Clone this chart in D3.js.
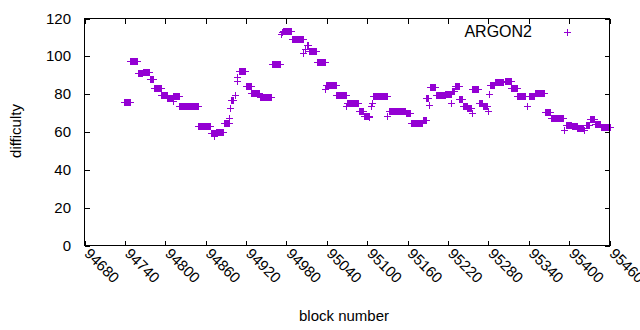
<!DOCTYPE html>
<html>
<head>
<meta charset="utf-8">
<script src="https://cdn.jsdelivr.net/npm/d3@7"></script>
<style>
  body { margin: 0; background: #fff; }
  text { font-family: "Liberation Sans", Arial, sans-serif; fill: #000; }
</style>
</head>
<body>
<div id="chart"></div>
<script>
// runs of constant difficulty: first block, last block, difficulty
const runStart = [94739, 94748, 94759, 94767, 94777, 94783, 94794, 94803, 94811, 94812,
  94821, 94849, 94868, 94873, 94876, 94887, 94895, 94896, 94897, 94903,
  94906, 94907, 94910, 94920, 94928, 94940, 94958, 94972, 94974, 94975,
  94988, 95005, 95008, 95010, 95013, 95025, 95038, 95039, 95054, 95069,
  95070, 95088, 95095, 95103, 95105, 95107, 95108, 95130, 95132, 95157,
  95165, 95183, 95188, 95192, 95193, 95202, 95216, 95225, 95226, 95230,
  95237, 95242, 95249, 95255, 95256, 95266, 95272, 95279, 95281, 95283,
  95290, 95305, 95314, 95323, 95337, 95341, 95349, 95364, 95373, 95393,
  95395, 95404, 95412, 95422, 95425, 95431, 95438, 95447];
const runEnd = [94747, 94758, 94766, 94776, 94782, 94793, 94802, 94810, 94811, 94820,
  94848, 94867, 94875, 94873, 94886, 94894, 94895, 94896, 94900, 94903,
  94906, 94907, 94919, 94927, 94939, 94957, 94971, 94972, 94974, 94987,
  95004, 95005, 95008, 95012, 95024, 95037, 95038, 95053, 95068, 95069,
  95087, 95094, 95102, 95103, 95105, 95107, 95129, 95130, 95156, 95164,
  95182, 95187, 95190, 95192, 95201, 95215, 95224, 95225, 95229, 95236,
  95241, 95248, 95254, 95255, 95265, 95271, 95278, 95279, 95281, 95289,
  95302, 95313, 95322, 95335, 95337, 95348, 95363, 95372, 95391, 95393,
  95403, 95411, 95421, 95422, 95430, 95437, 95446, 95460];
const runDifficulty = [75.6, 97.3, 91.0, 91.6, 88.0, 83.2, 79.8, 78.2, 76.5, 78.8,
  74.0, 63.4, 59.7, 58.0, 60.2, 64.8, 67.6, 72.9, 77.0, 79.5,
  87.0, 89.2, 92.5, 84.1, 80.4, 78.7, 95.7, 111.6, 113.0, 113.6,
  108.9, 101.5, 103.7, 106.0, 103.0, 97.2, 82.5, 85.1, 79.3, 73.8,
  75.1, 71.0, 68.7, 67.9, 73.6, 75.2, 78.8, 68.3, 71.3, 69.8,
  65.0, 66.6, 78.0, 74.5, 83.9, 79.4, 80.1, 75.1, 81.9, 84.5,
  77.4, 73.6, 72.8, 70.1, 82.8, 75.4, 73.8, 71.3, 80.0, 84.8,
  86.2, 87.1, 83.4, 78.8, 73.8, 78.8, 80.4, 70.8, 67.5, 61.3,
  63.8, 63.0, 62.1, 61.0, 63.7, 66.9, 64.0, 62.9];

const xTicks = [94680, 94740, 94800, 94860, 94920, 94980, 95040, 95100, 95160, 95220, 95280, 95340, 95400, 95460];
const yTicks = [0, 20, 40, 60, 80, 100, 120];
const seriesName = "ARGON2";

const width = 640, height = 330;
const plotLeft = 84.5, plotRight = 609.5, plotTop = 18.5, plotBottom = 245.5;
const color = "#9400d3";

const svg = d3.select("#chart").append("svg")
  .attr("width", width)
  .attr("height", height);

const x = d3.scaleLinear().domain([94680, 95460]).range([plotLeft, plotRight]);
const y = d3.scaleLinear().domain([0, 120]).range([plotBottom, plotTop]);

// one point per block
const points = [];
runStart.forEach((s, i) => {
  for (let b = s; b <= runEnd[i]; b++) points.push({block: b, diff: runDifficulty[i]});
});

// gnuplot style "+" marker, snapped to the pixel grid
const plus = (cx, cy) => {
  cx = Math.round(cx) + 0.5; cy = Math.round(cy) + 0.5;
  return `M${cx - 3.5},${cy}H${cx + 3.5}M${cx},${cy - 3.5}V${cy + 3.5}`;
};

svg.selectAll(".pt").data(points).enter().append("path")
  .attr("d", d => plus(x(d.block), y(d.diff)))
  .attr("fill", "none")
  .attr("stroke", color)
  .attr("stroke-width", 1);

// axes, ticks pointing inward on all four sides
const axB = svg.append("g").attr("transform", `translate(0,${plotBottom})`)
  .call(d3.axisBottom(x).tickValues(xTicks).tickSize(-5).tickFormat(""));
const axT = svg.append("g").attr("transform", `translate(0,${plotTop})`)
  .call(d3.axisTop(x).tickValues(xTicks).tickSize(-5).tickFormat(""));
const axL = svg.append("g").attr("transform", `translate(${plotLeft},0)`)
  .call(d3.axisLeft(y).tickValues(yTicks).tickSize(-5).tickFormat(""));
const axR = svg.append("g").attr("transform", `translate(${plotRight},0)`)
  .call(d3.axisRight(y).tickValues(yTicks).tickSize(-5).tickFormat(""));
[axB, axT, axL, axR].forEach(g => {
  g.select(".domain").remove();
  g.selectAll("line").attr("stroke", "#000").attr("shape-rendering", "crispEdges");
});

svg.append("rect")
  .attr("x", plotLeft).attr("y", plotTop)
  .attr("width", plotRight - plotLeft).attr("height", plotBottom - plotTop)
  .attr("fill", "none").attr("stroke", "#000").attr("stroke-width", 1)
  .attr("shape-rendering", "crispEdges");

// tick labels
svg.selectAll(".ylab").data(yTicks).enter().append("text")
  .attr("x", 71)
  .attr("y", d => y(d) + 5)
  .attr("text-anchor", "end")
  .attr("font-size", "15px")
  .text(d => d);

svg.selectAll(".xlab").data(xTicks).enter().append("text")
  .attr("transform", d => `translate(${x(d) - 1},${plotBottom + 9}) rotate(45)`)
  .attr("text-anchor", "start")
  .attr("font-size", "15px")
  .text(d => d);

svg.append("text")
  .attr("transform", `translate(21,131) rotate(-90)`)
  .attr("text-anchor", "middle")
  .attr("font-size", "15px")
  .text("difficulty");

svg.append("text")
  .attr("x", 344).attr("y", 321)
  .attr("text-anchor", "middle")
  .attr("font-size", "15px")
  .text("block number");

// legend
svg.append("text")
  .attr("x", 532).attr("y", 37)
  .attr("text-anchor", "end")
  .attr("font-size", "16px")
  .text(seriesName);
svg.append("path")
  .attr("d", plus(567, 31.5))
  .attr("stroke", color)
  .attr("stroke-width", 1);
</script>
</body>
</html>
